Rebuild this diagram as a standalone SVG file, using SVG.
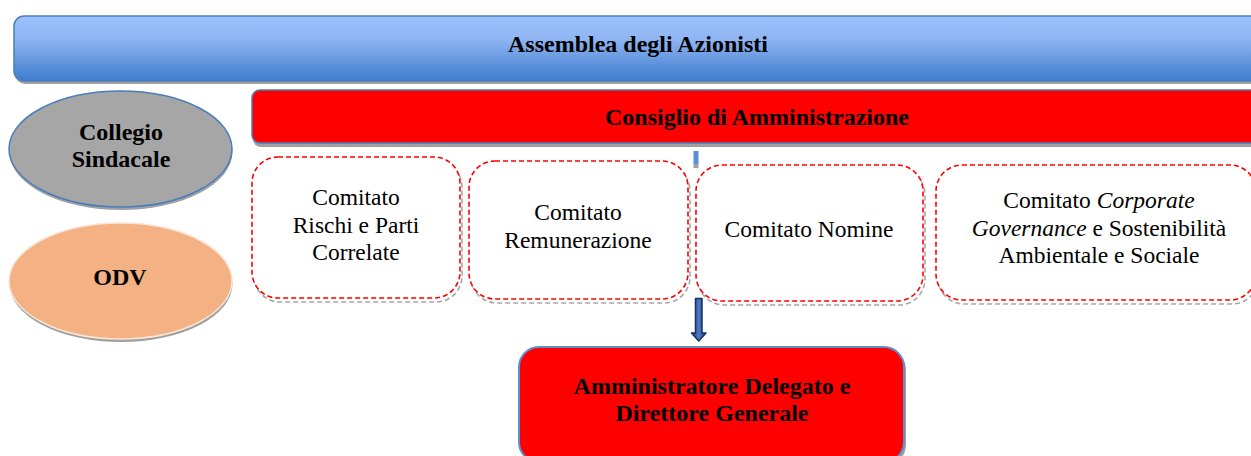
<svg xmlns="http://www.w3.org/2000/svg" width="1251" height="456" viewBox="0 0 1251 456">
<defs>
<linearGradient id="gBlue" x1="0" y1="0" x2="0" y2="1">
<stop offset="0" stop-color="#9cc2fd"/>
<stop offset="0.35" stop-color="#8fb5f3"/>
<stop offset="1" stop-color="#3f7ccc"/>
</linearGradient>
<linearGradient id="gArrow" x1="0" y1="0" x2="1" y2="0">
<stop offset="0" stop-color="#1f3f7a"/>
<stop offset="0.5" stop-color="#4a7cc8"/>
<stop offset="1" stop-color="#1f3f7a"/>
</linearGradient>
<style>
text{font-family:"Liberation Serif","Times New Roman","DejaVu Serif",serif;fill:#000;text-anchor:middle}
.b{font-weight:bold;font-size:24px}
.n{font-size:23.5px}
.shadow{fill:#a0a0a0}
.dashR{fill:#fff;stroke:#ff0000;stroke-width:1.6;stroke-dasharray:5,3}
.dashG{fill:none;stroke:#a6a6a6;stroke-width:1.6;stroke-dasharray:5,3}
</style>
</defs>
<rect width="1251" height="456" fill="#fff"/>

<g id="assemblea">
<rect x="15" y="19" width="1256" height="65" rx="10" class="shadow"/>
<rect x="14" y="16" width="1256" height="65" rx="10" fill="url(#gBlue)" stroke="#4a7ebb" stroke-width="1.5"/>
<text class="b" x="638" y="52">Assemblea degli Azionisti</text>
</g>

<g id="consiglio">
<rect x="253" y="93" width="1020" height="54" rx="8" class="shadow"/>
<rect x="252" y="90" width="1020" height="53" rx="8" fill="#ff0000" stroke="#4a7ebb" stroke-width="1.5"/>
<text class="b" x="757" y="125">Consiglio di Amministrazione</text>
</g>

<g id="collegio">
<ellipse cx="121" cy="152" rx="111.5" ry="58" class="shadow"/>
<ellipse cx="120.5" cy="149" rx="111.5" ry="58" fill="#a6a6a6" stroke="#4a7ebb" stroke-width="1.5"/>
<text class="b" x="121" y="140">Collegio</text>
<text class="b" x="121" y="167">Sindacale</text>
</g>

<g id="odv">
<ellipse cx="121" cy="284" rx="111.5" ry="58" class="shadow"/>
<ellipse cx="120.5" cy="281" rx="111.5" ry="58" fill="#f4b183" stroke="#fbe5d6" stroke-width="1.5"/>
<text class="b" x="120" y="285">ODV</text>
</g>

<g id="comitato-rischi">
<rect x="254" y="161" width="208" height="141" rx="26" class="dashG"/>
<rect x="252" y="157" width="208" height="141" rx="26" class="dashR"/>
<text class="n" x="356" y="205">Comitato</text>
<text class="n" x="356" y="233">Rischi e Parti</text>
<text class="n" x="356" y="260">Correlate</text>
</g>

<g id="comitato-remunerazione">
<rect x="471" y="165" width="219" height="138" rx="26" class="dashG"/>
<rect x="469" y="161" width="219" height="138" rx="26" class="dashR"/>
<text class="n" x="578" y="220">Comitato</text>
<text class="n" x="578" y="248">Remunerazione</text>
</g>

<g id="comitato-nomine">
<rect x="698" y="169" width="227" height="136" rx="26" class="dashG"/>
<rect x="696" y="165" width="227" height="136" rx="26" class="dashR"/>
<text class="n" x="809" y="237">Comitato Nomine</text>
</g>

<g id="comitato-governance">
<rect x="938" y="169" width="320" height="135" rx="26" class="dashG"/>
<rect x="936" y="165" width="320" height="135" rx="26" class="dashR"/>
<text class="n" x="1099" y="208">Comitato <tspan font-style="italic">Corporate</tspan></text>
<text class="n" x="1099" y="236"><tspan font-style="italic">Governance</tspan> e Sostenibilità</text>
<text class="n" x="1099" y="263">Ambientale e Sociale</text>
</g>

<g id="amministratore">
<rect x="521" y="350" width="385" height="115" rx="20" class="shadow"/>
<rect x="519" y="347" width="385" height="115" rx="20" fill="#ff0000" stroke="#5b8fd0" stroke-width="2"/>
<text class="b" x="712" y="394">Amministratore Delegato e</text>
<text class="b" x="712" y="421">Direttore Generale</text>
</g>

<g id="connectors">
<rect x="693.5" y="151" width="5" height="13" fill="#5b8ed6"/>
<rect x="693.5" y="164" width="5" height="4" fill="#a0a0a0"/>
<path d="M695.5 298.5 H702 V333 H706 L698.75 341 L691.5 333 H695.5 Z" fill="url(#gArrow)" stroke="#1a2f5a" stroke-width="1.5" stroke-linejoin="round"/>
</g>
</svg>
